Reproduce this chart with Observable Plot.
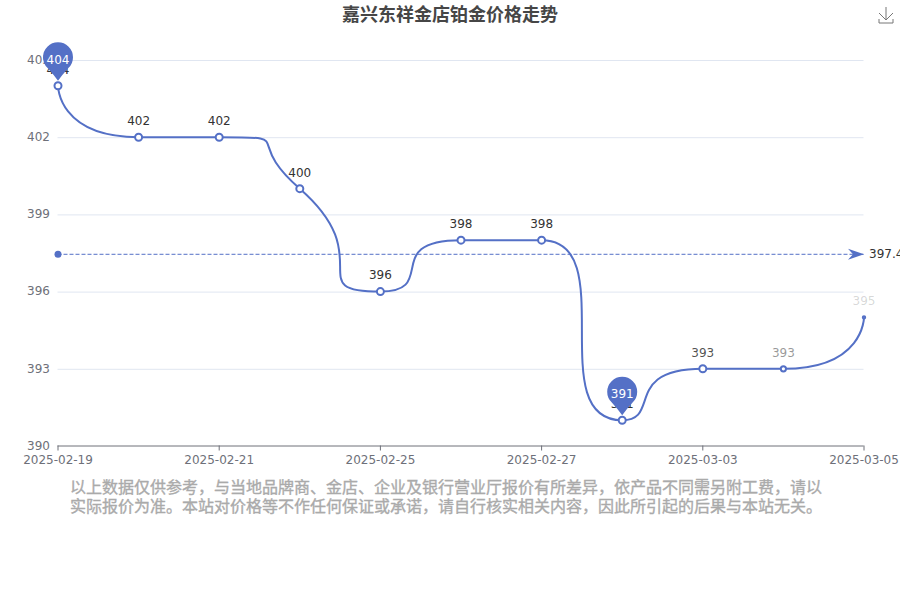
<!DOCTYPE html>
<html lang="zh">
<head>
<meta charset="utf-8">
<script src="https://cdn.jsdelivr.net/npm/d3@7"></script>
<script src="https://cdn.jsdelivr.net/npm/@observablehq/plot@0.6"></script>
<style>
  @font-face { font-family: "CommaTC"; src: local("Noto Sans CJK TC"), local("Noto Sans CJK TC Regular"); unicode-range: U+FF0C; }
  html, body { margin: 0; padding: 0; background: #fff; width: 900px; height: 600px; overflow: hidden; }
  #wrap { position: relative; width: 900px; height: 600px; }
  #title { height: 30px; text-align: center; font: bold 18px/26px "Noto Sans CJK SC", sans-serif; color: #464646; }
  #chart svg { display: block; overflow: hidden; }
  #caption { margin: 7px 0 0 70px; width: 760px; font: 16px/19px "CommaTC", "Noto Sans CJK SC", sans-serif; color: #aaa; -webkit-text-stroke: 0.35px #aaa; }
  #save { position: absolute; left: 876px; top: 4px; }
</style>
</head>
<body>
<div id="wrap">
  <div id="title">嘉兴东祥金店铂金价格走势</div>
  <div id="chart"></div>
  <div id="caption">以上数据仅供参考，与当地品牌商、金店、企业及银行营业厅报价有所差异，依产品不同需另附工费，请以实际报价为准。本站对价格等不作任何保证或承诺，请自行核实相关内容，因此所引起的后果与本站无关。</div>
  <svg id="save" width="20" height="22" viewBox="0 0 20 22" fill="none" stroke="#777" stroke-width="1">
    <path d="M10 3V16M3 9L10 16L17 9M3 15V19H17V15"/>
  </svg>
</div>
<script>
const dates = ["2025-02-19","2025-02-20","2025-02-21","2025-02-24","2025-02-25","2025-02-26","2025-02-27","2025-02-28","2025-03-03","2025-03-04","2025-03-05"];
const prices = [404,402,402,400,396,398,398,391,393,393,395];
const xTickLabels = ["2025-02-19","2025-02-21","2025-02-25","2025-02-27","2025-03-03","2025-03-05"];
const yTickValues = [390,393,396,399,402,405];
const highest = {date: "2025-02-19", price: 404};
const lowest = {date: "2025-02-28", price: 391};
const meanPrice = 397.45;

const BLUE = "#5470c6";
const rows = dates.map((date, i) => ({date, price: prices[i]}));
const pins = [highest, lowest];
const meanRow = [{price: meanPrice}];

// The last few points are still fading in
const labelOpacity = [1,1,1,1,1,1,1,1,0.85,0.5,0.2];
const dotRadius = [3.5,3.5,3.5,3.5,3.5,3.5,3.5,3.5,3.5,2.6,1.2];

// Control-point smoothing with the kinked look of the original line
function smoothCurve(context) {
  let pts;
  const smooth = 1;
  return {
    areaStart() {}, areaEnd() {},
    lineStart() { pts = []; },
    point(x, y) { pts.push([+x, +y]); },
    lineEnd() {
      const {min, max} = Math;
      let cp0x, cp0y;
      pts.forEach(([x, y], i) => {
        if (i === 0) { context.moveTo(x, y); cp0x = x; cp0y = y; return; }
        const [px, py] = pts[i - 1];
        let c1x = x, c1y = y, nx0 = x, ny0 = y;
        if (i < pts.length - 1) {
          const [nx, ny] = pts[i + 1];
          const lenPrev = Math.hypot(x - px, y - py);
          const lenNext = Math.hypot(nx - x, ny - y);
          const ratio = lenNext / (lenNext + lenPrev);
          let vx = nx - px, vy = ny - py;
          nx0 = x + vx * smooth * ratio;
          ny0 = y + vy * smooth * ratio;
          nx0 = max(min(nx0, max(nx, x)), min(nx, x));
          ny0 = max(min(ny0, max(ny, y)), min(ny, y));
          vx = nx0 - x; vy = ny0 - y;
          c1x = x - vx * lenPrev / lenNext;
          c1y = y - vy * lenPrev / lenNext;
          c1x = max(min(c1x, max(px, x)), min(px, x));
          c1y = max(min(c1y, max(py, y)), min(py, y));
          vx = x - c1x; vy = y - c1y;
          nx0 = x + vx * lenNext / lenPrev;
          ny0 = y + vy * lenNext / lenPrev;
        }
        context.bezierCurveTo(cp0x, cp0y, c1x, c1y, x, y);
        cp0x = nx0; cp0y = ny0;
      });
    }
  };
}

const pinSymbol = {
  draw(context) {
    const cy = -28.5, r = 15, tip = -5;
    const a0 = Math.PI * 0.75, a1 = Math.PI * 0.25;
    context.moveTo(0, tip);
    context.quadraticCurveTo(-4, cy + 18, r * Math.cos(a0), cy + r * Math.sin(a0));
    context.arc(0, cy, r, a0, a1, false);
    context.quadraticCurveTo(4, cy + 18, 0, tip);
    context.closePath();
  }
};
const arrowSymbol = {
  draw(context) {
    context.moveTo(0, 0);
    context.lineTo(-16, -5.5);
    context.lineTo(-11, 0);
    context.lineTo(-16, 5.5);
    context.closePath();
  }
};

const FONT = '"DejaVu Sans", sans-serif';
const plot = Plot.plot({
  width: 900,
  height: 440,
  marginLeft: 57.5,
  marginRight: 36.5,
  marginTop: 29.5,
  marginBottom: 24.5,
  style: {fontFamily: FONT, background: "transparent"},
  x: {type: "point", domain: dates, padding: 0, round: false, axis: null},
  y: {domain: [390, 405], axis: null},
  r: {type: "identity"},
  marks: [
    Plot.ruleY(yTickValues.slice(1), {stroke: "#E0E6F1", strokeWidth: 1, strokeOpacity: 1, dy: 0.5}),
    Plot.axisY({ticks: yTickValues, tickSize: 0, tickPadding: 8, fontSize: 12, fill: "#6E7079", label: null, marginLeft: 57.5, tickFormat: d => d}),
    Plot.ruleY([390], {stroke: "#6E7079", strokeWidth: 1, strokeOpacity: 1}),
    Plot.axisX({ticks: xTickLabels, tickSize: 5, tickPadding: 4, fontSize: 12, fill: "#6E7079", stroke: "#6E7079", strokeOpacity: 1, label: null, tickFormat: d => d}),
    Plot.line(rows, {x: "date", y: "price", stroke: BLUE, strokeWidth: 2, curve: smoothCurve}),
    Plot.ruleY(meanRow, {y: "price", stroke: BLUE, strokeWidth: 1, strokeOpacity: 1, strokeDasharray: "4,2"}),
    Plot.dot(meanRow, {x: () => dates[0], y: "price", r: 3.5, fill: BLUE, stroke: "none"}),
    Plot.dot(meanRow, {x: () => dates[dates.length - 1], y: "price", symbol: arrowSymbol, fill: BLUE, stroke: "none"}),
    Plot.text(meanRow, {x: () => dates[dates.length - 1], y: "price", text: d => String(d.price), dx: 5, textAnchor: "start", fontSize: 12, fill: "#333"}),
    Plot.dot(rows, {x: "date", y: "price", r: (d, i) => dotRadius[i], fill: "#fff", stroke: BLUE, strokeWidth: 2}),
    Plot.text(rows, {x: "date", y: "price", text: d => String(d.price), dy: -16, fontSize: 12, fill: "#333", fillOpacity: (d, i) => labelOpacity[i]}),
    Plot.dot(pins, {x: "date", y: "price", symbol: pinSymbol, fill: BLUE, stroke: "none"}),
    Plot.text(pins, {x: "date", y: "price", text: d => String(d.price), dy: -26, fontSize: 12, fill: "#fff"})
  ]
});
document.getElementById("chart").append(plot);
</script>
</body>
</html>
